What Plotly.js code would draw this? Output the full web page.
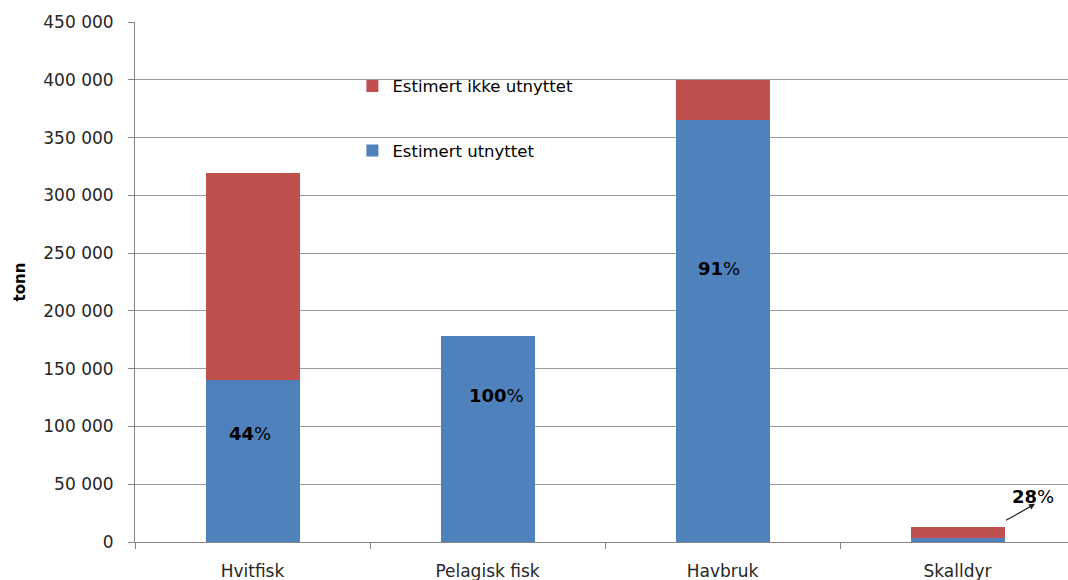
<!DOCTYPE html>
<html>
<head>
<meta charset="utf-8">
<script src="https://cdn.plot.ly/plotly-3.0.1.min.js"></script>
<style>html,body{margin:0;padding:0;background:#fff;}#chart{width:1068px;height:580px;}</style>
</head>
<body>
<div id="chart"></div>
<script>
const categories = ["Hvitfisk", "Pelagisk fisk", "Havbruk", "Skalldyr"];
const utnyttet = [140000, 178000, 365000, 3600];
const ikkeUtnyttet = [179000, 0, 35000, 9400];
const percentLabels = ["44", "100", "91", "28"];
const yTickVals = [0, 50000, 100000, 150000, 200000, 250000, 300000, 350000, 400000, 450000];
const yTickText = ["0", "50 000", "100 000", "150 000", "200 000", "250 000", "300 000", "350 000", "400 000", "450 000"];

const FONT = "DejaVu Sans, Open Sans, sans-serif";
const blue = "#4F81BD";
const red = "#C0504D";

const traces = [
  {type: "bar", x: categories, y: utnyttet, name: "Estimert utnyttet",
   marker: {color: blue}, legendgroup: "a", legendrank: 2, hoverinfo: "skip"},
  {type: "bar", x: categories, y: ikkeUtnyttet, name: "Estimert ikke utnyttet",
   marker: {color: red}, legendgroup: "b", legendrank: 1, hoverinfo: "skip"}
];

// label positions (layout placement, not data)
const labelPos = [
  {x: -0.01, y: 94000},
  {x: 1.04, y: 127000},
  {x: -0.014 + 2, y: 237000},
  {x: 3.32, y: 39000}
];
const annotations = percentLabels.map((p, i) => ({
  x: labelPos[i].x, y: labelPos[i].y, xref: "x", yref: "y",
  text: "<b>" + p + "</b>%", showarrow: false,
  font: {family: FONT, size: 18, color: "#000"}
}));
// arrow for Skalldyr label
annotations.push({
  x: 3.33, y: 33000, xref: "x", yref: "y",
  ax: 3 + 0.2, ay: 18000, axref: "x", ayref: "y",
  text: "", showarrow: true, arrowhead: 2, arrowsize: 1, arrowwidth: 1.2, arrowcolor: "#222"
});

const layout = {
  width: 1068, height: 580,
  margin: {l: 135, r: 0, t: 22, b: 38},
  paper_bgcolor: "#fff", plot_bgcolor: "#fff",
  barmode: "stack", bargap: 0.6,
  font: {family: FONT, size: 16, color: "#404040"},
  xaxis: {
    type: "category", range: [-0.5, 3.47],
    showline: true, linecolor: "#868686", linewidth: 1,
    ticks: "outside", tickson: "boundaries", ticklen: 6, tickcolor: "#868686",
    showgrid: false, ticklabelstandoff: 14,
    tickfont: {family: FONT, size: 17, color: "#262626"},
    fixedrange: true
  },
  yaxis: {
    range: [0, 450000], tickvals: yTickVals, ticktext: yTickText,
    showline: true, linecolor: "#868686", linewidth: 1,
    ticks: "outside", ticklen: 6, tickcolor: "#868686",
    showgrid: true, gridcolor: "#9a9a9a", gridwidth: 1,
    zeroline: false, ticklabelstandoff: 11,
    tickfont: {family: FONT, size: 17, color: "#262626"},
    title: {text: "<b>tonn</b>", font: {family: FONT, size: 15, color: "#000"}, standoff: 14},
    fixedrange: true
  },
  showlegend: true,
  legend: {
    x: 0.233, y: 0.91, xanchor: "left", yanchor: "top",
    bgcolor: "rgba(0,0,0,0)", traceorder: "grouped", tracegroupgap: 40,
    font: {family: FONT, size: 16.5, color: "#000"}
  },
  annotations: annotations
};

Plotly.newPlot("chart", traces, layout, {displayModeBar: false, staticPlot: true});
</script>
</body>
</html>
